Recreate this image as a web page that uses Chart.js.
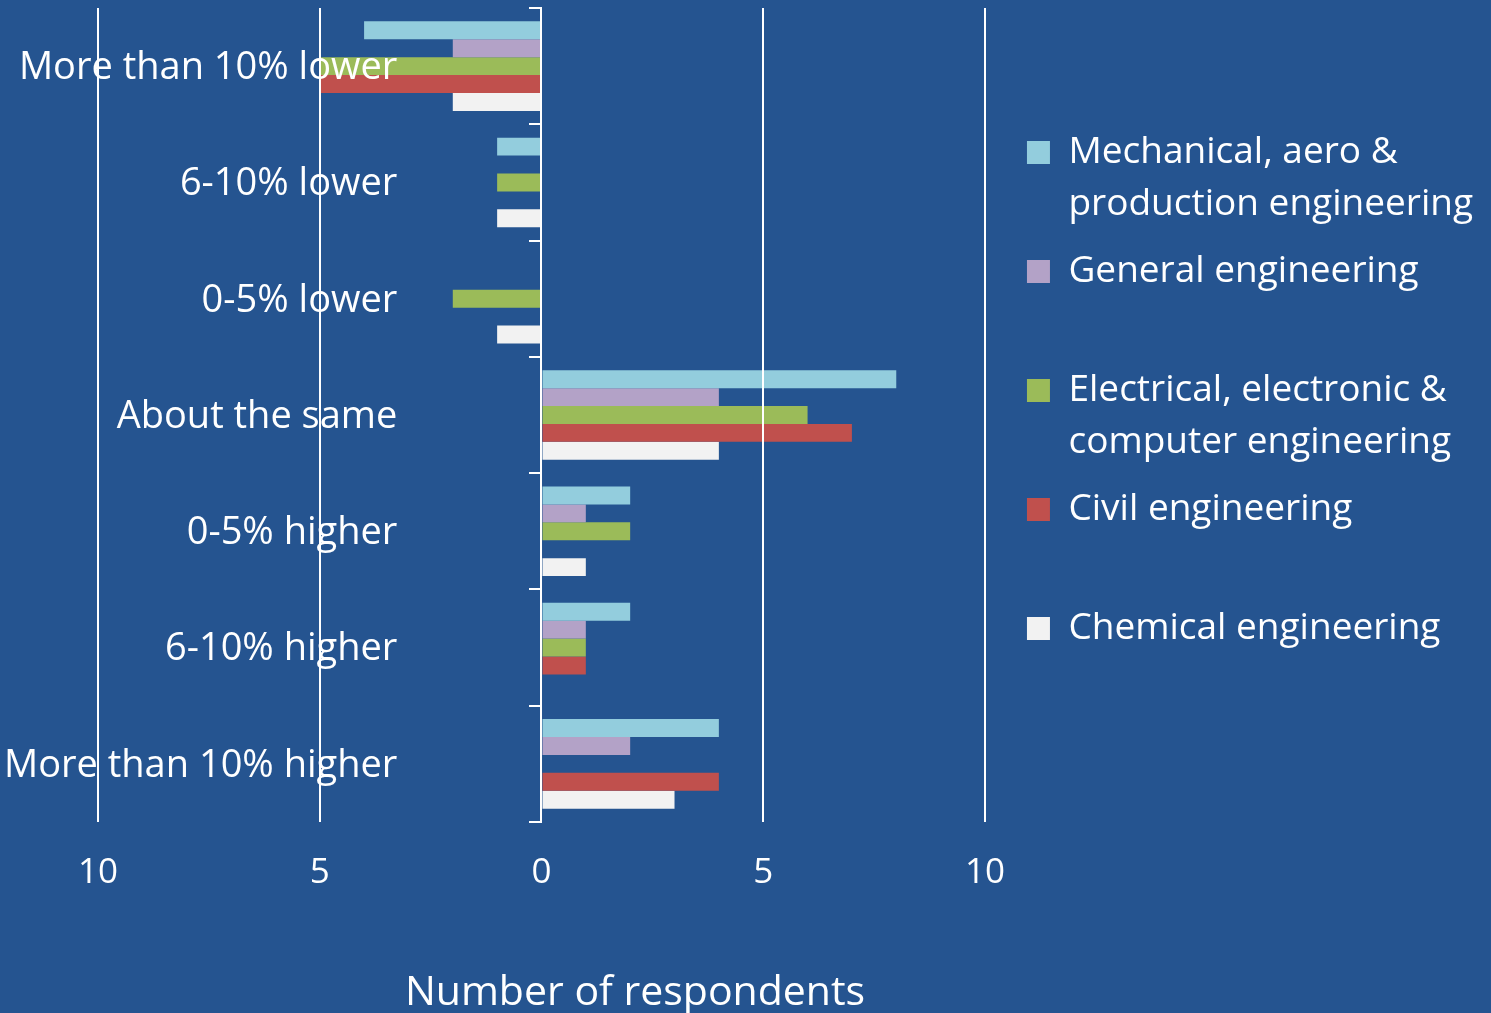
<!DOCTYPE html>
<html>
<head>
<meta charset="utf-8">
<script src="https://cdn.jsdelivr.net/npm/chart.js@4/dist/chart.umd.min.js"></script>
<style>
html, body { margin:0; padding:0; background:#255490; overflow:hidden; }
canvas { display:block; }
</style>
</head>
<body>
<canvas id="c" width="1491" height="1013"></canvas>
<script>
const categories = ["More than 10% lower", "6-10% lower", "0-5% lower", "About the same", "0-5% higher", "6-10% higher", "More than 10% higher"];
const seriesNames = ["Mechanical, aero & production engineering", "General engineering", "Electrical, electronic & computer engineering", "Civil engineering", "Chemical engineering"];
const legendLines = [["Mechanical, aero &", "production engineering"], ["General engineering", ""], ["Electrical, electronic &", "computer engineering"], ["Civil engineering", ""], ["Chemical engineering", ""]];
const mechanical = [-4, -1, 0, 8, 2, 2, 4];
const general    = [-2, 0, 0, 4, 1, 1, 2];
const electrical = [-5, -1, -2, 6, 2, 1, 0];
const civil      = [-5, 0, 0, 7, 0, 1, 4];
const chemical   = [-2, -1, -1, 4, 1, 0, 3];
const xMin = -10, xMax = 10, xStep = 5;
const axisTitle = "Number of respondents";
const colors = ['#93CDDD', '#B3A2C7', '#9BBB59', '#C0504D', '#F2F2F2'];

const FONT = "'Open Sans', sans-serif";
const seriesData = [mechanical, general, electrical, civil, chemical];

const axisTitlePlugin = {
  id: 'axisTitle',
  afterDraw(chart) {
    const ctx = chart.ctx;
    ctx.save();
    ctx.font = "41px 'Open Sans', sans-serif";
    ctx.fillStyle = '#ffffff';
    ctx.textAlign = 'center';
    ctx.textBaseline = 'alphabetic';
    ctx.fillText(axisTitle, 635, 1005);
    ctx.restore();
  }
};

const noPad = s => { s.paddingTop = 0; s.paddingBottom = 0; };

new Chart(document.getElementById('c'), {
  type: 'bar',
  data: {
    labels: categories,
    datasets: seriesData.map((d, i) => ({
      label: seriesNames[i],
      data: d,
      backgroundColor: colors[i],
      borderWidth: 0,
      categoryPercentage: 0.77,
      barPercentage: 1
    }))
  },
  options: {
    indexAxis: 'y',
    responsive: false,
    animation: false,
    events: [],
    layout: { padding: { left: 98, top: 8, right: 8, bottom: 89 } },
    scales: {
      x: {
        type: 'linear', min: xMin, max: xMax,
        ticks: { stepSize: xStep, color: '#ffffff', font: { family: FONT, size: 35 }, padding: 30, z: 2,
                 callback: v => String(Math.abs(v)) },
        grid: { color: '#ffffff', lineWidth: 2, drawTicks: false, z: 1 },
        border: { display: false }
      },
      y: {
        type: 'category', position: { x: 0 }, offset: true,
        grid: { offset: true, drawOnChartArea: false, drawTicks: true, tickLength: 11, color: '#ffffff', lineWidth: 2, z: 1 },
        border: { display: true, color: '#ffffff', width: 2, z: 1 },
        ticks: { display: false },
        afterFit: noPad
      },
      yl: {
        axis: 'y', type: 'category', position: { x: -3.25 }, offset: true,
        grid: { display: false }, border: { display: false },
        ticks: { color: '#ffffff', font: { family: FONT, size: 38 }, padding: 0, labelOffset: 2, z: 2 },
        afterFit: noPad
      },
      spacer: {
        axis: 'y', type: 'linear', position: 'right',
        grid: { display: false, drawTicks: false }, border: { display: false },
        ticks: { display: false },
        afterFit: s => { s.width = 27; }
      }
    },
    plugins: {
      tooltip: { enabled: false },
      legend: {
        position: 'right', align: 'start', maxWidth: 600,
        title: { display: true, text: '', padding: { top: 101, bottom: 0 }, font: { size: 10, lineHeight: 1 } },
        labels: {
          color: '#ffffff', font: { family: FONT, size: 37, lineHeight: 52 / 37 },
          boxWidth: 23, boxHeight: 23, padding: 15,
          generateLabels: chart => Chart.defaults.plugins.legend.labels.generateLabels(chart)
            .map((it, i) => Object.assign({}, it, { text: legendLines[i], lineWidth: 0 }))
        }
      }
    }
  },
  plugins: [axisTitlePlugin]
});
</script>
</body>
</html>
